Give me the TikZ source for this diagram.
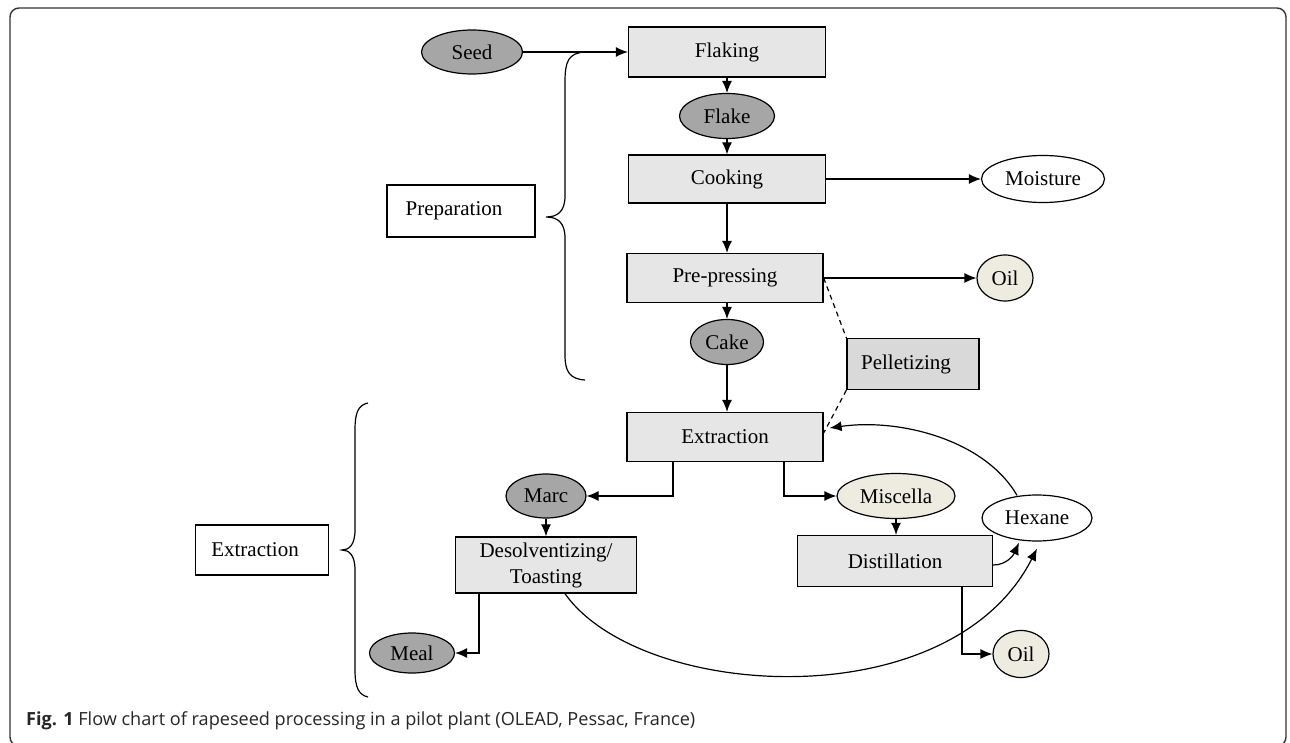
\documentclass[tikz,border=0pt]{standalone}
\usepackage{fontspec}
\setmainfont{Liberation Serif}
\newfontfamily\capfont{Open Sans}
\usetikzlibrary{shapes.geometric,arrows.meta}
\definecolor{boxgray}{HTML}{E6E6E6}
\definecolor{pelgray}{HTML}{D9D9D9}
\definecolor{dkgray}{HTML}{A6A6A6}
\definecolor{tan}{HTML}{EEECE1}
\definecolor{framecol}{HTML}{333333}
\begin{document}
\begin{tikzpicture}[x=1pt,y=-1pt,
  font=\fontsize{21}{26}\selectfont,
  stepbox/.style={rectangle,draw,line width=1.3pt,fill=boxgray,inner sep=0pt,align=center},
  labbox/.style={rectangle,draw,line width=1.3pt,fill=white,inner sep=0pt},
  blob/.style={ellipse,draw,line width=1.2pt,inner sep=0pt},
  arr/.style={line width=1.2pt,-{Latex[length=12pt,width=10pt]}},
  dashline/.style={line width=1.2pt,dash pattern=on 5pt off 4pt},
  bracepath/.style={line width=1.2pt}
]
\useasboundingbox (0,0) rectangle (1290,743);
% frame
\draw[framecol,line width=1.4pt,rounded corners=9pt] (10,8) rectangle (1286,746);

% nodes
\node[blob,fill=dkgray,minimum width=101pt,minimum height=44pt] (seed) at (472,52) {Seed};
\node[stepbox,minimum width=197pt,minimum height=50pt] (flaking) at (727,52) {Flaking};
\node[blob,fill=dkgray,minimum width=95pt,minimum height=45pt] (flake) at (727,116) {Flake};
\node[stepbox,minimum width=197pt,minimum height=48pt] (cooking) at (727,179) {Cooking};
\node[blob,fill=white,minimum width=123pt,minimum height=47pt] (moisture) at (1043,179) {Moisture};
\node[stepbox,minimum width=196pt,minimum height=49pt] (prep) at (725,278) {Pre-pressing};
\node[blob,fill=tan,minimum width=56pt,minimum height=46pt] (oila) at (1005,278) {Oil};
\node[blob,fill=dkgray,minimum width=73pt,minimum height=45pt] (cake) at (727,342) {Cake};
\node[stepbox,fill=pelgray,minimum width=132pt,minimum height=51pt] (pellet) at (913,364) {Pelletizing\hspace*{14pt}};
\node[stepbox,minimum width=196pt,minimum height=49pt] (extraction) at (725,437) {Extraction};
\node[blob,fill=dkgray,minimum width=80pt,minimum height=44pt] (marc) at (546,496) {Marc};
\node[blob,fill=tan,minimum width=118pt,minimum height=45pt] (miscella) at (896,496) {Miscella};
\node[blob,fill=white,minimum width=110pt,minimum height=46pt] (hexane) at (1037,518) {Hexane};
\node[stepbox,minimum width=181pt,minimum height=56pt] (desolv) at (546,565) {Desolventizing/\\Toasting};
\node[stepbox,minimum width=195pt,minimum height=51pt] (distill) at (895,561) {Distillation};
\node[blob,fill=dkgray,minimum width=85pt,minimum height=40pt] (meal) at (412,653) {Meal};
\node[blob,fill=tan,minimum width=56pt,minimum height=47pt] (oilb) at (1021,654) {Oil};
\node[labbox,minimum width=148pt,minimum height=52pt] (preplab) at (461,211) {Preparation\hspace*{14pt}};
\node[labbox,minimum width=133pt,minimum height=50pt] (extlab) at (262,550) {Extraction\hspace*{14pt}};

% braces
\draw[bracepath] (585,52) .. controls (568,53) and (565,62) .. (565,82) -- (565,196)
  .. controls (565,211) and (558,217) .. (546,217)
  .. controls (558,217) and (565,223) .. (565,238) -- (565,355)
  .. controls (565,372) and (570,379) .. (585,380);
\draw[bracepath] (368,403) .. controls (358,405) and (355,413) .. (355,430) -- (355,530)
  .. controls (355,545) and (349,550) .. (342,550)
  .. controls (349,550) and (355,555) .. (355,570) -- (355,670)
  .. controls (355,688) and (359,695) .. (368,697);

% connectors
\draw[arr] (seed.east) -- (flaking.west);
\draw[arr] (flaking.south) -- (flake.north);
\draw[arr] (flake.south) -- (cooking.north);
\draw[arr] (cooking.east) -- (moisture.west);
\draw[arr] (cooking.south) -- (cooking.south |- prep.north);
\draw[arr] (prep.east) -- (oila.west);
\draw[arr] (prep.south -| cake.north) -- (cake.north);
\draw[arr] (cake.south) -- (cake.south |- extraction.north);
\draw[dashline] (prep.east) -- (pellet.north west);
\draw[dashline] (pellet.south west) -- ([yshift=4pt]extraction.east);
\draw[arr] ([xshift=-52pt]extraction.south) |- (marc.east);
\draw[arr] ([xshift=59pt]extraction.south) |- (miscella.west);
\draw[arr] (marc.south) -- (desolv.north);
\draw[arr] ([xshift=-67pt]desolv.south) |- (meal.east);
\draw[arr] (miscella.south) -- (miscella.south |- distill.north);
\draw[arr] ([xshift=67pt]distill.south) |- (oilb.west);
\draw[arr] ([yshift=-4pt]distill.east) .. controls (1006,565) and (1013,556) .. ([xshift=-18pt,yshift=-1pt]hexane.south);
\draw[arr] ([xshift=19pt]desolv.south) .. controls (640,700) and (950,720) .. ([yshift=-7pt]hexane.south);
\draw[arr] ([xshift=-20pt,yshift=-1pt]hexane.north) .. controls (985,440) and (900,418) .. ([xshift=6pt,yshift=9pt]extraction.east);

% caption
\node[anchor=base west,inner sep=0pt,font=\capfont\fontsize{18.1}{21}\selectfont,text=black!85] (cap) at (26,725) {\textbf{Fig. 1} Flow chart of rapeseed processing in a pilot plant (OLEAD, Pessac, France)};
\end{tikzpicture}
\end{document}
